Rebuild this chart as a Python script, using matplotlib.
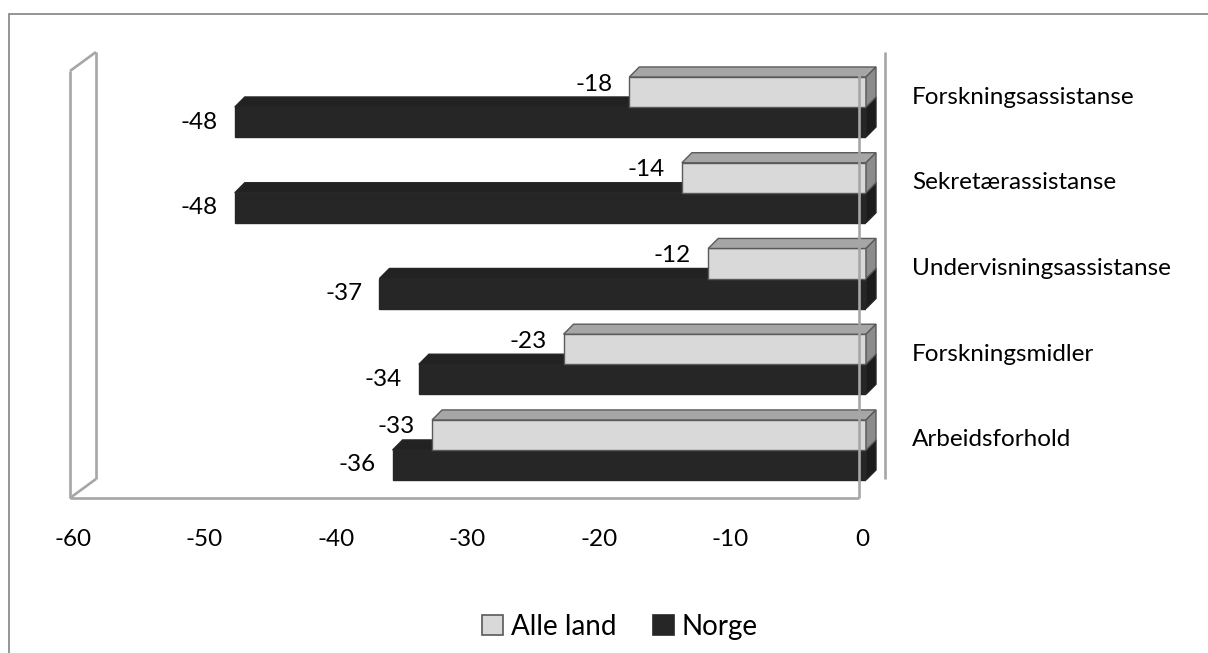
import matplotlib.pyplot as plt
from matplotlib.patches import Polygon, Rectangle
from matplotlib.lines import Line2D

plt.rcParams['font.family'] = ['Lato', 'DejaVu Sans']

categories = ['Arbeidsforhold', 'Forskningsmidler', 'Undervisningsassistanse',
              'Sekretærassistanse', 'Forskningsassistanse']
alle_land = [-33, -23, -12, -14, -18]
norge = [-36, -34, -37, -48, -48]
xticks = [-60, -50, -40, -30, -20, -10, 0]

W, H = 1208, 653
fig = plt.figure(figsize=(W / 100, H / 100), dpi=100)

# outer chart border (runs off the right and bottom edge)
fig.patches.append(Rectangle((9 / W, -0.1), 1.2, 1 - 14 / H + 0.1, transform=fig.transFigure,
                             fill=False, edgecolor='#8c8c8c', lw=1.3))

# axes = plane in which the bar fronts sit
ax = fig.add_axes([77 / W, 1 - 492 / H, 789 / W, 427 / H])
ax.set_xlim(-60, 0)
ax.set_ylim(-0.49, 4.49)
ax.axis('off')

aw, ah = 789, 427          # axes size in pixels
fx, fy = -7 / aw, -6 / ah  # front wall offset
bx, by = 19 / aw, 13 / ah  # back wall offset
wall = dict(color='#a6a6a6', lw=1.9, transform=ax.transAxes, clip_on=False,
            solid_capstyle='butt')
frame = [
    ([fx, fx], [fy, 1 + fy]),
    ([bx, bx], [by, 1 + by]),
    ([fx, bx], [1 + fy, 1 + by]),
    ([fx, bx], [fy, by]),
    ([fx, 1 + fx], [fy, fy]),
    ([1 + bx, 1 + bx], [by, 1 + by]),
]
for xs, ys in frame:
    ax.add_line(Line2D(xs, ys, zorder=1, **wall))
# front edge at zero shows through the bars
ax.add_line(Line2D([1 + fx, 1 + fx], [fy, 1 + fy], zorder=10, **wall))

h = 0.35                       # bar thickness
ddx, ddy = 0.76, 0.117         # bar depth in data units
edge = '#5a5a5a'


def bar3d(y, v, front, top, side, ec, lift):
    y0, y1 = y - h / 2, y + h / 2
    ax.barh(y, v, height=h, left=0, color=front, edgecolor=ec, lw=1.0, zorder=3)
    ax.add_patch(Polygon([(v, y1), (0, y1), (ddx, y1 + ddy), (v + ddx, y1 + ddy)],
                         closed=True, facecolor=top, edgecolor=ec, lw=1.0, zorder=3,
                         clip_on=False))
    ax.add_patch(Polygon([(0, y0), (0, y1), (ddx, y1 + ddy), (ddx, y0 + ddy)],
                         closed=True, facecolor=side, edgecolor=ec, lw=1.0, zorder=3,
                         clip_on=False))
    ax.annotate(str(v), (v, y), xytext=(-17, lift), textcoords='offset pixels',
                ha='right', va='center', fontsize=17.5, color='black', zorder=5)


for i, (a, n) in enumerate(zip(alle_land, norge)):
    bar3d(i - h / 2, n, '#262626', '#222222', '#1c1c1c', '#262626', 0)
    bar3d(i + h / 2, a, '#d9d9d9', '#a6a6a6', '#8c8c8c', edge, 8)
    ax.annotate(categories[i], (0, i), xytext=(46, 10), textcoords='offset pixels',
                ha='left', va='center', fontsize=17.5, color='black',
                xycoords=('data', 'data'), annotation_clip=False)

for t in xticks:
    ax.annotate(str(t), (t, -0.49), xytext=(-4, -48), textcoords='offset pixels',
                ha='center', va='center', fontsize=17.5, color='black',
                annotation_clip=False)

handles = [Rectangle((0, 0), 1, 1, facecolor='#d9d9d9', edgecolor='#595959', lw=1.2),
           Rectangle((0, 0), 1, 1, facecolor='#262626', edgecolor='#262626', lw=1.2)]
fig.legend(handles, ['Alle land', 'Norge'], loc='center', bbox_to_anchor=(620 / W, 1 - 627 / H),
           ncol=2, frameon=False, fontsize=20, handlelength=0.75, handleheight=0.75,
           handletextpad=0.3, columnspacing=1.3)

fig.savefig('out.png', dpi=100)
